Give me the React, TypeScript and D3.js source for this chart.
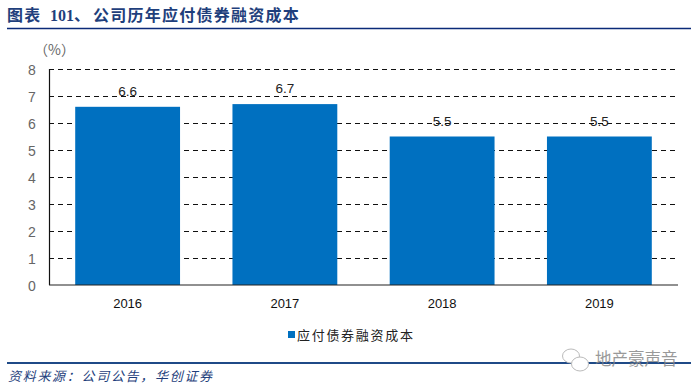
import React from "react";
import * as d3 from "d3";

const categories = ["2016", "2017", "2018", "2019"];
const values = [6.6, 6.7, 5.5, 5.5];
const valueLabels = ["6.6", "6.7", "5.5", "5.5"];
const yTicks = [0, 1, 2, 3, 4, 5, 6, 7, 8];
const titleHead = "图表";
const titleNumber = "101";
const titleMark = "、";
const titleRest = "公司历年应付债券融资成本";
const seriesName = "应付债券融资成本";
const unitText = "（%）";
const sourceText = "资料来源：公司公告，华创证券";
const watermarkText = "地产豪声音";

const W = 700;
const H = 389;
const CJK = "'Noto Sans CJK SC', sans-serif";
const LAT = "'Liberation Sans', Arial, sans-serif";
const BLUE = "#0070c0";
const NAVY = "#1f4a87";

export default function App() {
  const x = d3.scaleBand<string>().domain(categories).range([49, 678]).paddingInner(1 / 3).paddingOuter(1 / 6);
  const y = d3.scaleLinear().domain([0, 8]).range([285, 69]);
  return (
    <svg width={W} height={H} viewBox={`0 0 ${W} ${H}`} style={{ position: "fixed", left: 0, top: 0, background: "#fff" }}>
      <g fontWeight={700} fontSize={16} fill="#1f3f7c" fontFamily={CJK}>
        <text x={7} y={21} letterSpacing={1.2}>{titleHead}</text>
        <text x={50} y={21} fontFamily="'Liberation Serif', serif">{titleNumber}</text>
        <text x={74} y={21}>{titleMark}</text>
        <text x={93} y={21} letterSpacing={1.25}>{titleRest}</text>
      </g>
      <line x1={7} x2={691} y1={28.5} y2={28.5} stroke="#0b2a78" strokeWidth={1.5} />
      <text x={34} y={55} fontFamily={CJK} fontSize={14} fill="#666">{unitText}</text>

      {yTicks.filter((t) => t > 0).map((t) => (
        <line key={t} x1={49} x2={678} y1={Math.round(y(t)) + 0.5} y2={Math.round(y(t)) + 0.5} stroke="#111" strokeWidth={1} strokeDasharray="5 4" />
      ))}
      {categories.map((c, i) => (
        <rect key={c} x={x(c)} y={y(values[i])} width={x.bandwidth()} height={285 - y(values[i])} fill={BLUE} />
      ))}
      <line x1={49.5} x2={49.5} y1={69} y2={285} stroke="#111" strokeWidth={1.2} />
      <line x1={49} x2={678} y1={285} y2={285} stroke="#222" strokeWidth={1.2} />
      {yTicks.map((t) => (
        <text key={t} x={32} y={y(t) + 5.5} textAnchor="middle" fontFamily={LAT} fontSize={14} fill="#666">{t}</text>
      ))}
      {categories.map((c, i) => (
        <text key={c} x={x(c)! + x.bandwidth() / 2} y={y(values[i]) - 11} textAnchor="middle" fontFamily={LAT} fontSize={13.5} fill="#222">{valueLabels[i]}</text>
      ))}
      {categories.map((c) => (
        <text key={c} x={x(c)! + x.bandwidth() / 2} y={308} textAnchor="middle" fontFamily={LAT} fontSize={13} fill="#111">{c}</text>
      ))}
      <rect x={288} y={331} width={7} height={7} fill={BLUE} />
      <text x={297} y={340} fontFamily={CJK} fontSize={13} letterSpacing={1.7} fill="#222">{seriesName}</text>
      <line x1={7} x2={691} y1={363} y2={363} stroke={NAVY} strokeWidth={2} />
      <text x={8} y={381} fontFamily={CJK} fontStyle="italic" fontSize={13} letterSpacing={1.7} fill="#1f3f7c">{sourceText}</text>

      <g fill="#fff" stroke="#bbb" strokeWidth={1}>
        <ellipse cx={571} cy={356} rx={8.5} ry={7} />
        <ellipse cx={580} cy={364} rx={8.5} ry={7} />
      </g>
      <text x={595} y={365} fontFamily={CJK} fontSize={16.5} fill="#888" opacity={0.85}>{watermarkText}</text>
    </svg>
  );
}
